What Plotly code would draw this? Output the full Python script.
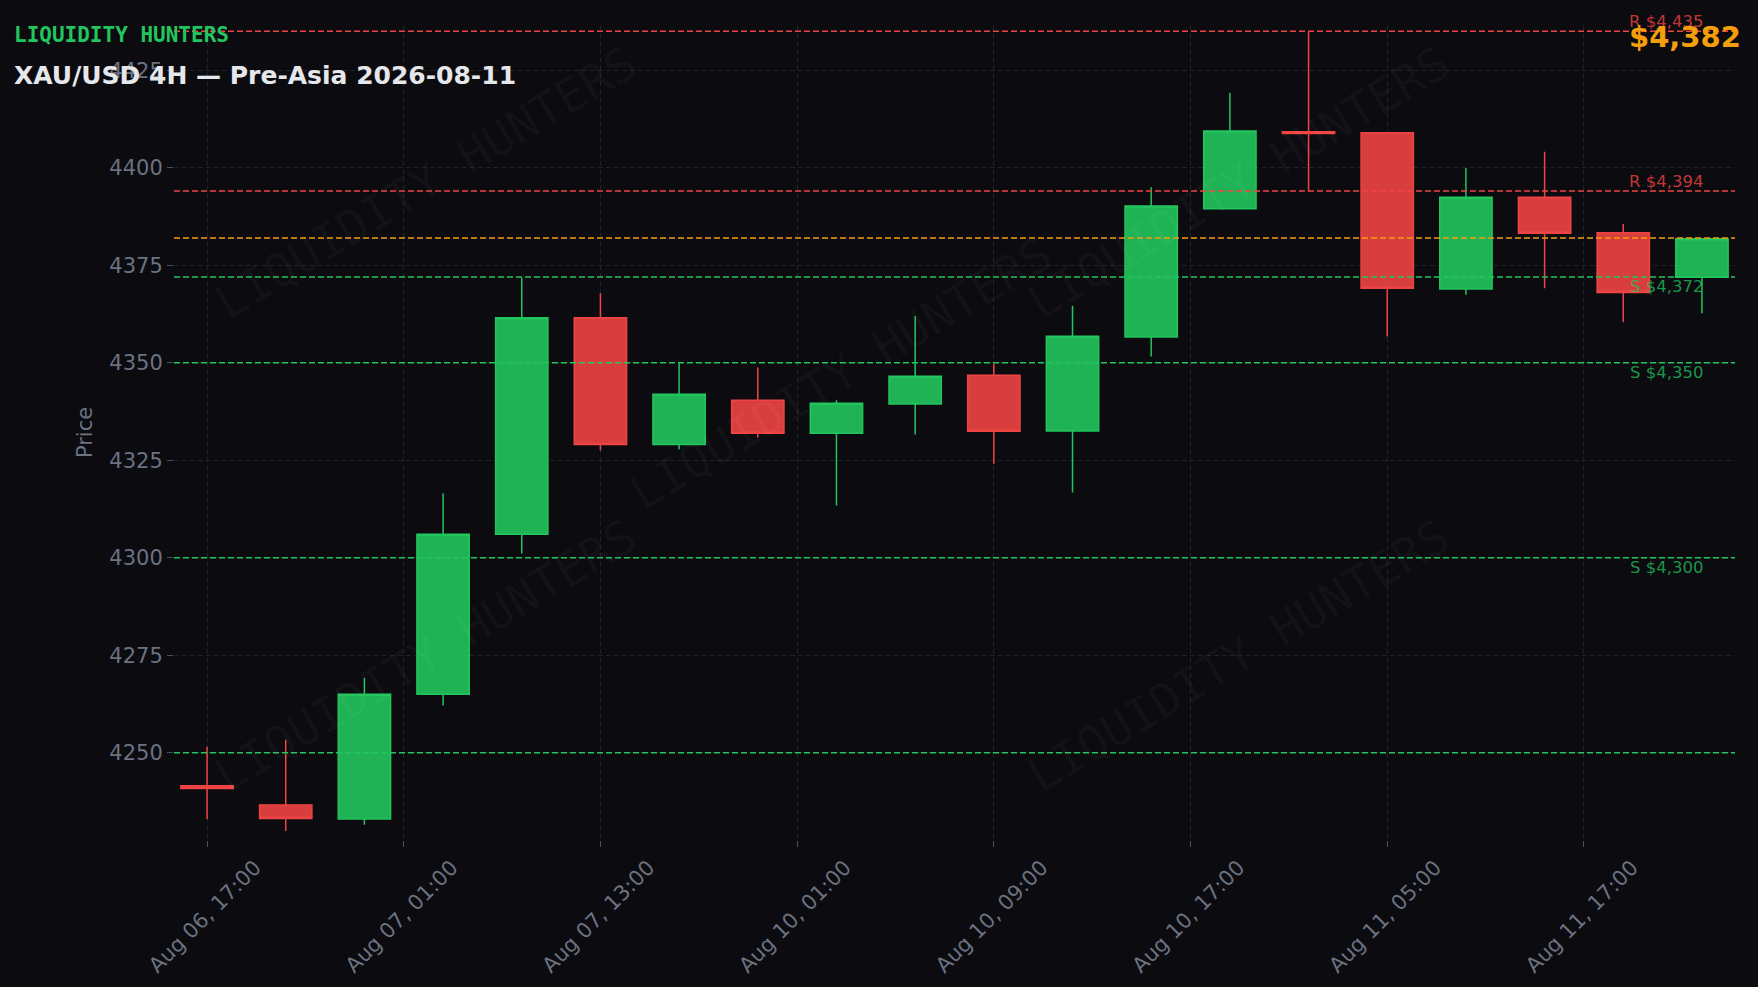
import plotly.graph_objects as go

# ---------------- data ----------------
times = ["2026-08-06 17:00", "2026-08-06 21:00", "2026-08-07 01:00", "2026-08-07 05:00",
         "2026-08-07 09:00", "2026-08-07 13:00", "2026-08-07 17:00", "2026-08-07 21:00",
         "2026-08-10 01:00", "2026-08-10 05:00", "2026-08-10 09:00", "2026-08-10 13:00",
         "2026-08-10 17:00", "2026-08-10 21:00", "2026-08-11 01:00", "2026-08-11 05:00",
         "2026-08-11 09:00", "2026-08-11 13:00", "2026-08-11 17:00", "2026-08-11 21:00"]
opens = [4241.5, 4236.6, 4233.0, 4265.0, 4306.0, 4361.5, 4329.0, 4340.4, 4331.9, 4339.4,
         4346.8, 4332.5, 4356.6, 4389.5, 4409.2, 4409.0, 4368.9, 4392.4, 4383.3, 4371.9]
highs = [4251.5, 4253.3, 4269.2, 4316.5, 4371.8, 4367.8, 4350.0, 4348.8, 4340.4, 4362.0,
         4349.7, 4364.6, 4395.0, 4419.2, 4434.8, 4409.0, 4399.9, 4404.1, 4385.6, 4381.8]
lows = [4233.0, 4229.9, 4231.5, 4262.1, 4301.1, 4327.5, 4327.8, 4330.8, 4313.4, 4331.6,
        4324.1, 4316.7, 4351.6, 4389.3, 4393.9, 4356.7, 4367.4, 4369.1, 4360.4, 4362.7]
closes = [4240.8, 4233.1, 4265.0, 4306.0, 4361.5, 4329.0, 4341.9, 4331.9, 4339.6, 4346.5,
          4332.4, 4356.8, 4390.2, 4409.4, 4408.8, 4369.1, 4392.4, 4383.2, 4368.0, 4381.8]

tick_labels = ["Aug 06, 17:00", "Aug 07, 01:00", "Aug 07, 13:00", "Aug 10, 01:00",
               "Aug 10, 09:00", "Aug 10, 17:00", "Aug 11, 05:00", "Aug 11, 17:00"]
tick_step = 2.5  # candles between labelled ticks

resistance_levels = [4435, 4394]
support_levels = [4372, 4350, 4300]
unlabeled_support = [4250]
current_price = 4382

title_text = "XAU/USD 4H — Pre-Asia 2026-08-11"
brand_text = "LIQUIDITY HUNTERS"

# ---------------- style ----------------
BG = "#0b0b10"
GRID = "#20222a"
MUTED = "#6b7280"
GREEN = "#22c55e"
RED = "#ef4444"
ORANGE = "#f59e0b"
FONT = "DejaVu Sans"

idx = list(range(len(opens)))

fig = go.Figure()
fig.add_trace(go.Candlestick(
    x=idx, open=opens, high=highs, low=lows, close=closes,
    text=times, hoverinfo="text+y",
    increasing=dict(line=dict(color=GREEN, width=1.5), fillcolor="rgba(34,197,94,0.9)"),
    decreasing=dict(line=dict(color=RED, width=1.5), fillcolor="rgba(239,68,68,0.9)"),
    showlegend=False,
))

shapes = []
annotations = []
DASH = "6px,3px"

for lvl in resistance_levels:
    shapes.append(dict(type="line", xref="paper", x0=0, x1=1, yref="y", y0=lvl, y1=lvl,
                       line=dict(color=RED, width=1.5, dash=DASH), layer="above"))
    annotations.append(dict(xref="paper", x=0.981, xanchor="right", yref="y", y=lvl,
                            yanchor="bottom", yshift=-2, text=f"R ${lvl:,}", showarrow=False,
                            font=dict(family=FONT, size=16.5, color="rgba(239,68,68,0.8)")))

shapes.append(dict(type="line", xref="paper", x0=0, x1=1, yref="y", y0=current_price,
                   y1=current_price, line=dict(color=ORANGE, width=1.5, dash=DASH), layer="above"))

for lvl in support_levels:
    shapes.append(dict(type="line", xref="paper", x0=0, x1=1, yref="y", y0=lvl, y1=lvl,
                       line=dict(color=GREEN, width=1.5, dash=DASH), layer="above"))
    annotations.append(dict(xref="paper", x=0.981, xanchor="right", yref="y", y=lvl,
                            yanchor="top", yshift=2, text=f"S ${lvl:,}", showarrow=False,
                            font=dict(family=FONT, size=16.5, color="rgba(34,197,94,0.75)")))

for lvl in unlabeled_support:
    shapes.append(dict(type="line", xref="paper", x0=0, x1=1, yref="y", y0=lvl, y1=lvl,
                       line=dict(color=GREEN, width=1.5, dash=DASH), layer="above"))

# watermarks
for wx, wy in [(0.161, 0.807), (0.427, 0.573), (0.682, 0.807), (0.161, 0.226), (0.682, 0.226)]:
    annotations.append(dict(xref="paper", yref="paper", x=wx, y=wy, text=brand_text,
                            showarrow=False, textangle=-31,
                            font=dict(family="DejaVu Sans Mono", size=47,
                                      color="rgba(255,255,255,0.035)"),
                            xanchor="center", yanchor="middle"))

# header texts
annotations.append(dict(xref="paper", yref="paper", x=-0.104, y=0.988, xanchor="left",
                        yanchor="middle", text=f"<b>{brand_text}</b>", showarrow=False,
                        font=dict(family="DejaVu Sans Mono", size=21, color=GREEN)))
annotations.append(dict(xref="paper", yref="paper", x=-0.104, y=0.9385, xanchor="left",
                        yanchor="middle", text=f"<b>{title_text}</b>", showarrow=False,
                        font=dict(family=FONT, size=25, color="#e5e7eb")))
annotations.append(dict(xref="paper", yref="paper", x=1.005, y=0.985, xanchor="right",
                        yanchor="middle", text=f"<b>${current_price:,}</b>", showarrow=False,
                        font=dict(family=FONT, size=29, color=ORANGE)))

fig.update_layout(
    width=1758, height=987,
    paper_bgcolor=BG, plot_bgcolor=BG,
    margin=dict(l=174, r=23, t=25, b=147),
    font=dict(family=FONT, color=MUTED, size=21),
    shapes=shapes, annotations=annotations,
    showlegend=False,
    boxgap=0.05,
    xaxis=dict(
        type="linear", range=[-0.42, 19.42], automargin=False,
        tickvals=[i * tick_step for i in range(len(tick_labels))], ticktext=tick_labels,
        tickangle=-45, ticks="outside", ticklen=6, tickcolor="#4b5060",
        ticklabelshift=48,
        showgrid=True, gridcolor=GRID, griddash="5px,3px", gridwidth=1,
        zeroline=False, showline=False, rangeslider=dict(visible=False),
        tickfont=dict(family=FONT, size=21, color=MUTED),
    ),
    yaxis=dict(
        range=[4227.6, 4436.6], dtick=25, tick0=4250, automargin=False,
        ticks="outside", ticklen=6, tickcolor="#4b5060",
        showgrid=True, gridcolor=GRID, griddash="5px,3px", gridwidth=1,
        zeroline=False, showline=False,
        title=dict(text="Price", font=dict(family=FONT, size=21, color=MUTED), standoff=10),
        tickfont=dict(family=FONT, size=21, color=MUTED),
    ),
)

fig.write_html(
    "out.html",
    config={"displayModeBar": False},
    post_script="document.body.style.margin='0';document.body.style.background='#0b0b10';",
)
